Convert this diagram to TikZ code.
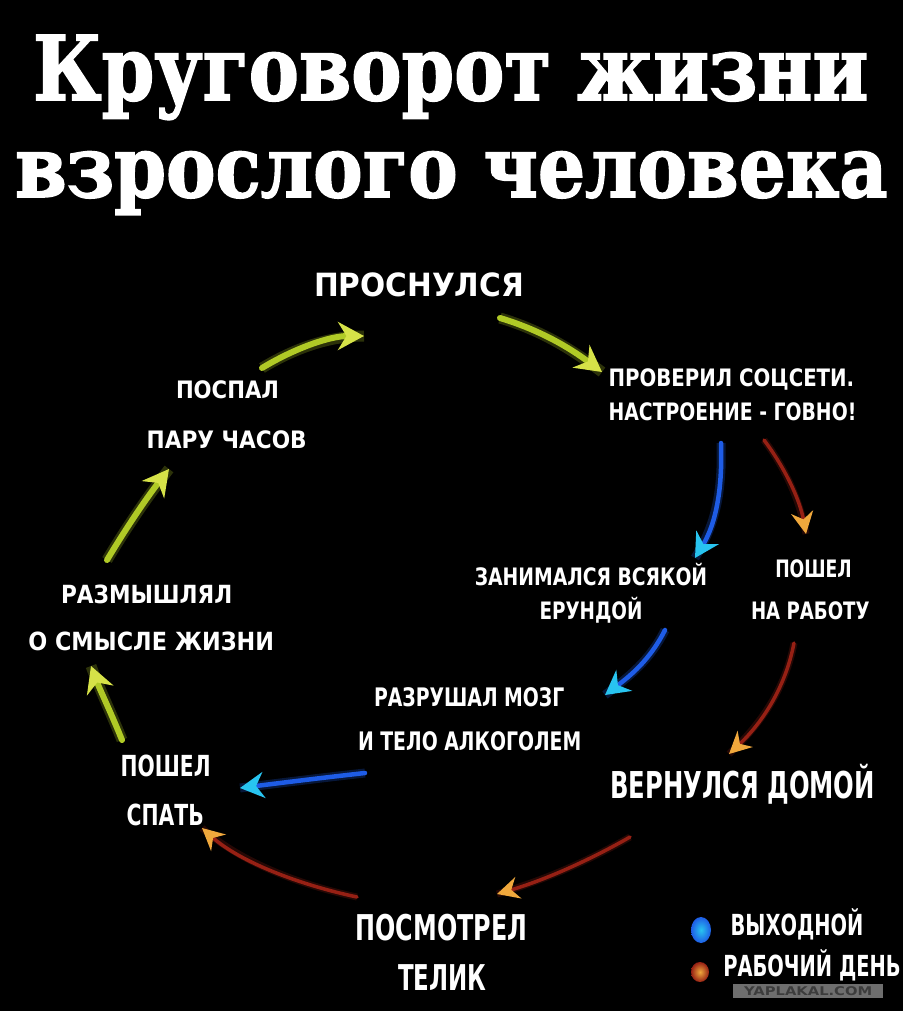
\documentclass[tikz,border=0pt]{standalone}
\usepackage{fontspec}
\usepackage{graphicx}
\usetikzlibrary{arrows.meta}
\newfontfamily\labfont{DejaVu Sans}
\newfontfamily\titfont{DejaVu Serif}[FakeBold=2]
\definecolor{yg}{RGB}{176,202,38}
\definecolor{ygh}{RGB}{214,226,72}
\definecolor{bl}{RGB}{30,92,230}
\definecolor{blh}{RGB}{40,196,240}
\definecolor{rd}{RGB}{150,32,20}
\definecolor{rdh}{RGB}{240,168,60}
\definecolor{wmgray}{RGB}{122,122,122}
\definecolor{wmtext}{RGB}{60,60,60}
\newsavebox\fitbox
\newdimen\fitdim
\newcommand\fitw[2]{\sbox\fitbox{#2}\fitdim=\wd\fitbox\pgfmathsetmacro\fitsx{#1/\fitdim}\scalebox{\fitsx}[1]{\usebox\fitbox}}
\newcommand\lline[6]{\node[lab,font={\labfont\bfseries\fontsize{#5}{#5}\selectfont}] (#1) at (#2,#3) {\fitw{#4}{#6}};}
\tikzset{
  lab/.style={text=white,anchor=base,inner sep=0pt,outer sep=0pt},
  greenarrow/.style={draw=yg,line width=6pt,line cap=round,
    preaction={draw=yg,line width=11pt,opacity=0.25,-},
    -{Stealth[length=26pt,width=28pt,color=ygh]}},
  bluearrow/.style={draw=bl,line width=4.5pt,line cap=round,
    preaction={draw=bl,line width=9pt,opacity=0.25,-},
    -{Stealth[length=24pt,width=26pt,color=blh]}},
  redarrow/.style={draw=rd,line width=3.5pt,line cap=round,
    preaction={draw=rd,line width=7pt,opacity=0.25,-},
    -{Stealth[length=22pt,width=22pt,color=rdh]}},
}
\begin{document}
\begin{tikzpicture}[x=1pt,y=-1pt]
\fill[black] (0,0) rectangle (903,1011);
\useasboundingbox (0,0) rectangle (903,1011);
% title
\node[text=white,anchor=base west,inner sep=0pt] (t1) at (33,100)
  {\resizebox{835pt}{65pt}{\titfont\bfseries Круговорот жизни}};
\node[text=white,anchor=base west,inner sep=0pt] (t2) at (15,197)
  {\resizebox{872pt}{45.5pt}{\titfont\bfseries взрослого человека}};
% labels
\lline{wake}{419}{296}{210}{32}{ПРОСНУЛСЯ}
\lline{soc1}{731.4}{386.7}{245.6}{24}{ПРОВЕРИЛ СОЦСЕТИ.}
\lline{soc2}{732.5}{420}{247.7}{24}{НАСТРОЕНИЕ - ГОВНО!}
\lline{nap1}{227.5}{398.3}{103}{24}{ПОСПАЛ}
\lline{nap2}{226.7}{448.3}{160}{24}{ПАРУ ЧАСОВ}
\lline{thk1}{146.7}{603.3}{171.3}{25}{РАЗМЫШЛЯЛ}
\lline{thk2}{151.2}{650}{245.7}{25}{О СМЫСЛЕ ЖИЗНИ}
\lline{fool1}{591}{585}{232.4}{24}{ЗАНИМАЛСЯ ВСЯКОЙ}
\lline{fool2}{591}{619.3}{103}{24}{ЕРУНДОЙ}
\lline{work1}{813.5}{577.3}{76.5}{24}{ПОШЕЛ}
\lline{work2}{810.3}{619.3}{118.6}{24}{НА РАБОТУ}
\lline{alc1}{469.2}{706}{190.4}{25.5}{РАЗРУШАЛ МОЗГ}
\lline{alc2}{469.7}{750.7}{223.3}{25.5}{И ТЕЛО АЛКОГОЛЕМ}
\lline{bed1}{165.7}{776.7}{90}{29}{ПОШЕЛ}
\lline{bed2}{165.3}{825}{77.3}{29}{СПАТЬ}
\lline{home}{742.5}{798}{265}{37}{ВЕРНУЛСЯ ДОМОЙ}
\lline{tv1}{441.5}{940}{171.7}{35.5}{ПОСМОТРЕЛ}
\lline{tv2}{442.5}{990}{88.3}{35.5}{ТЕЛИК}
\lline{leg1}{797}{935}{132.7}{29}{ВЫХОДНОЙ}
\lline{leg2}{812}{976}{177.4}{29}{РАБОЧИЙ ДЕНЬ}
% legend markers
\shade[inner color=blh,outer color=bl] (701,930) ellipse [x radius=10,y radius=13];
\shade[inner color=rdh,outer color=rd] (700,972) ellipse [x radius=9,y radius=10];
% watermark
\node[fill=wmgray,fill opacity=0.9,text opacity=1,text=wmtext,inner sep=0pt,
  minimum width=150pt,minimum height=14pt,anchor=north west,
  font={\labfont\bfseries\fontsize{12}{12}\selectfont}] (wm) at (733,984) {\fitw{128}{YAPLAKAL.COM}};
% connector end points
\coordinate (a1s) at (262,368); \coordinate (a1e) at (364,336);
\coordinate (a2s) at (500,318); \coordinate (a2e) at (602,372);
\coordinate (a3s) at (721,443); \coordinate (a3e) at (695,558);
\coordinate (a4s) at (764,440); \coordinate (a4e) at (806,534);
\coordinate (a5s) at (665,630); \coordinate (a5e) at (605,695);
\coordinate (a6s) at (794,643); \coordinate (a6e) at (729,754);
\coordinate (a7s) at (365,773); \coordinate (a7e) at (240,788);
\coordinate (a8s) at (630,837); \coordinate (a8e) at (497,894);
\coordinate (a9s) at (357,897); \coordinate (a9e) at (202,828);
\coordinate (a10s) at (122,740); \coordinate (a10e) at (91,666);
\coordinate (a11s) at (107,560); \coordinate (a11e) at (169,469);
% connectors
\draw[greenarrow] (a1s) .. controls (295,348) and (330,336) .. (a1e);
\draw[greenarrow] (a2s) .. controls (540,330) and (570,348) .. (a2e);
\draw[bluearrow] (a3s) .. controls (723,500) and (712,530) .. (a3e);
\draw[redarrow] (a4s) .. controls (785,468) and (800,500) .. (a4e);
\draw[bluearrow] (a5s) .. controls (650,660) and (630,676) .. (a5e);
\draw[redarrow] (a6s) .. controls (785,690) and (760,725) .. (a6e);
\draw[bluearrow] (a7s) .. controls (320,778) and (280,783) .. (a7e);
\draw[redarrow] (a8s) .. controls (590,860) and (545,880) .. (a8e);
\draw[redarrow] (a9s) .. controls (300,885) and (240,862) .. (a9e);
\draw[greenarrow] (a10s) .. controls (112,715) and (100,690) .. (a10e);
\draw[greenarrow] (a11s) .. controls (125,530) and (145,500) .. (a11e);
\end{tikzpicture}
\end{document}
